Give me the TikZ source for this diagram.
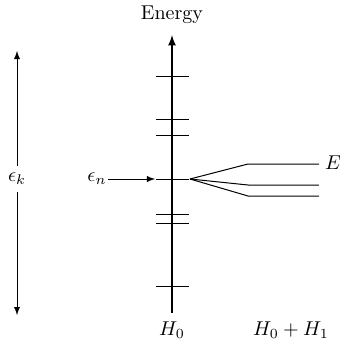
\documentclass[tikz,border=0pt]{standalone}
\usetikzlibrary{positioning}
\begin{document}
\begin{tikzpicture}[x=0.5pt,y=0.5pt,line join=round,>=latex]
	\useasboundingbox (0,0) rectangle (340,350);
	\tikzset{level/.style={line width=0.4pt},split/.style={line width=0.5pt}}
	
	% energy axis
	\coordinate (bot) at (172,37);
	\coordinate (top) at (172,315);
	\draw[->,line width=0.8pt] (bot) -- (top);
	\node (energy) at (172,335) {Energy};
	\node (Hzero) at (172,20) {$H_0$};
	\node (Hsum) at (291,20) {$H_0+H_1$};
	
	% unperturbed levels
	\foreach \y in {274,231,215,171,136,127,64}
		\draw[level] (156,\y) -- (189,\y);
	
	% range of levels
	\node (epsk) at (17,171) {$\epsilon_k$};
	\coordinate (ktop) at (17,299);
	\coordinate (kbot) at (17,35);
	\draw[->,level] (epsk) -- (ktop);
	\draw[->,level] (epsk) -- (kbot);
	
	% level n
	\node (epsn) at (97,171) {$\epsilon_n$};
	\coordinate (ntip) at (155,171);
	\draw[->,level] (epsn) ++(11,0) -- (ntip);
	
	% splitting by H_1
	\coordinate (s) at (190,171);
	\draw[split] (s) -- (248,186) -- (319,186);
	\draw[split] (s) -- (248,165) -- (319,165);
	\draw[split] (s) -- (248,154) -- (319,154);
	\node (E) at (333,187) {$E$};
\end{tikzpicture}
\end{document}
